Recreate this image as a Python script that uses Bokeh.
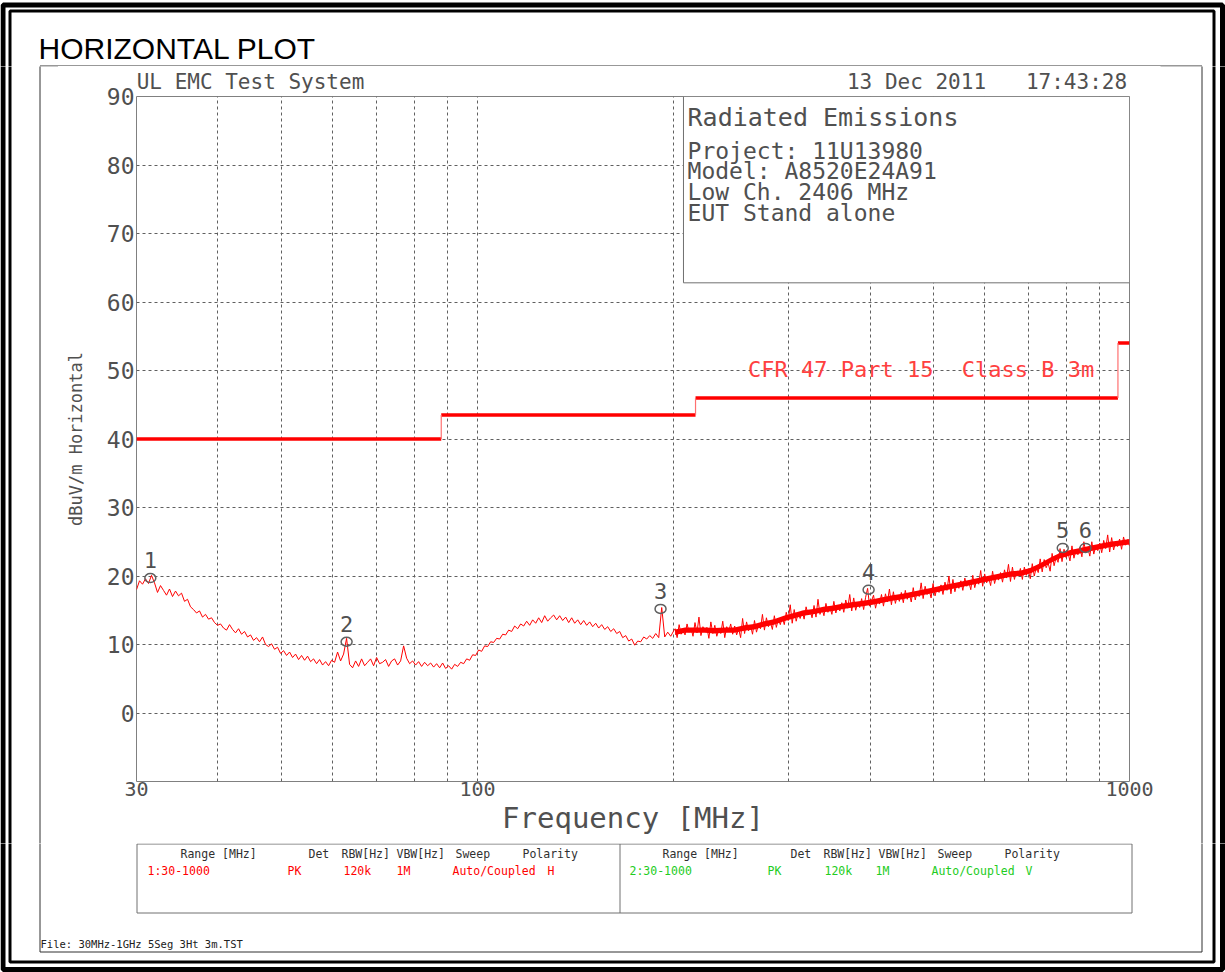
import numpy as np
from bokeh.plotting import figure
from bokeh.layouts import column, row
from bokeh.models import FixedTicker, Label, BoxAnnotation, Range1d, LinearAxis, LinearScale
from bokeh.core.properties import value
from bokeh.embed import file_html
from bokeh.resources import INLINE

# ---------------- data ----------------
low_start, low_stop = 30.0, 200.0
low_values = [
    18.0, 19.3, 18.8, 19.6, 18.9, 20.1, 19.0, 17.6, 18.6, 17.9,
    17.2, 18.1, 17.0, 17.8, 17.1, 17.5, 16.3, 16.6, 15.5, 15.1,
    14.6, 14.9, 14.0, 14.4, 13.7, 13.9, 13.2, 12.8, 13.0, 12.4,
    12.1, 12.9, 12.2, 11.7, 12.3, 11.5, 11.9, 11.1, 11.4, 10.6,
    11.0, 10.4, 11.1, 10.0, 9.7, 10.1, 9.3, 9.6, 8.7, 9.1,
    8.4, 8.9, 8.1, 8.6, 7.8, 8.4, 7.7, 8.3, 7.5, 7.9,
    7.2, 7.8, 7.0, 7.5, 6.9, 7.7, 7.4, 8.9, 7.6, 8.6,
    10.9, 7.1, 6.6, 7.6, 6.8, 7.9, 6.9, 7.4, 7.9, 6.9,
    8.1, 7.2, 7.4, 7.8, 6.8, 7.6, 7.9, 7.0, 7.6, 9.8,
    8.0, 7.2, 7.6, 7.0, 7.5, 6.8, 7.4, 6.9, 7.3, 6.7,
    7.2, 6.6, 7.3, 6.5, 6.9, 6.4, 7.1, 6.8, 7.4, 7.2,
    7.9, 7.7, 8.5, 8.4, 9.2, 9.0, 9.8, 9.7, 10.4, 10.3,
    10.9, 10.8, 11.5, 11.4, 12.1, 11.9, 12.7, 12.3, 13.0, 12.7,
    13.4, 12.8, 13.6, 13.1, 13.9, 13.2, 14.2, 13.4, 13.9, 14.3,
    13.6, 14.2, 13.5, 14.0, 13.2, 13.9, 13.1, 13.6, 12.9, 13.5,
    12.8, 13.3, 12.6, 13.1, 12.4, 12.9, 12.2, 12.6, 11.9, 12.3,
    11.6, 11.9, 11.0, 11.3, 10.5, 10.8, 9.9, 10.5, 10.4, 11.1,
    10.8, 11.3, 10.9, 11.6, 11.0, 15.4, 11.1, 11.8, 11.2, 12.0,
]
high_start, high_stop = 201.0, 1000.0
high_values = [
    12.3, 11.0, 12.9, 11.5, 12.0,
    11.4, 13.0, 11.8, 12.4, 11.2,
    13.2, 11.7, 14.0, 11.3, 12.6,
    11.9, 12.5, 10.9, 13.3, 11.6,
    12.8, 11.2, 12.2, 11.6, 13.4,
    11.0, 12.6, 11.9, 13.0, 11.5,
    12.7, 11.4, 12.3, 11.0, 13.8,
    11.6, 13.3, 12.0, 12.8, 11.5,
    13.5, 11.8, 12.9, 12.3, 14.4,
    12.1, 13.9, 12.6, 13.3, 12.2,
    14.2, 12.5, 13.7, 12.9, 14.0,
    12.9, 14.7, 13.5, 15.8, 13.1,
    15.1, 13.4, 14.6, 13.8, 14.9,
    13.7, 15.5, 14.3, 15.0, 13.9,
    15.7, 14.0, 16.6, 14.4, 15.3,
    14.2, 16.0, 14.7, 15.5, 14.4,
    16.3, 14.6, 15.7, 14.9, 16.1,
    14.7, 16.5, 15.3, 17.3, 14.9,
    16.8, 15.0, 16.1, 15.4, 16.7,
    15.1, 16.9, 18.2, 15.6, 16.4,
    17.2, 15.3, 16.6, 15.9, 17.3,
    15.6, 17.4, 16.2, 18.1, 15.8,
    17.7, 16.0, 17.2, 16.3, 17.6,
    16.1, 17.9, 16.6, 17.4, 16.2,
    18.3, 16.5, 17.7, 17.0, 19.0,
    16.7, 18.5, 17.3, 18.0, 16.8,
    18.9, 17.1, 18.3, 17.6, 18.7,
    17.3, 19.1, 17.9, 20.0, 17.4,
    19.5, 17.7, 18.9, 18.2, 19.3,
    17.9, 19.7, 18.5, 19.2, 18.0,
    20.1, 18.3, 19.5, 18.8, 20.8,
    18.5, 20.3, 19.0, 19.8, 18.6,
    20.7, 18.9, 20.1, 19.4, 20.5,
    19.1, 20.9, 19.7, 21.7, 19.2,
    21.3, 19.5, 20.7, 20.0, 21.1,
    19.5, 21.3, 20.1, 20.8, 19.6,
    21.8, 20.0, 21.2, 20.5, 22.5,
    20.6, 22.4, 21.2, 21.9, 20.7,
    23.3, 21.5, 22.7, 22.0, 24.0,
    22.1, 23.9, 22.7, 23.4, 22.2,
    24.4, 22.6, 23.8, 23.1, 24.2,
    22.8, 25.0, 23.4, 24.1, 22.9,
    25.0, 23.2, 24.4, 23.7, 24.8,
    23.4, 25.2, 24.0, 26.0, 23.5,
    25.6, 23.8, 25.0, 24.3, 25.4,
    23.9, 25.7, 24.5, 25.3, 24.4,
]
# core of the dense noise band (200 MHz - 1 GHz)
band_start, band_stop = 201.0, 1000.0
band_upper = [12.2, 12.5, 12.5, 12.5, 12.4, 12.5, 12.5, 12.8, 13.0, 13.4, 13.7, 14.2,
              14.6, 15.0, 15.2, 15.5, 15.7, 16.0, 16.2, 16.4, 16.6, 16.9, 17.2, 17.4,
              17.7, 18.0, 18.3, 18.6, 18.9, 19.2, 19.5, 19.8, 20.1, 20.4, 20.7, 20.8,
              21.2, 21.9, 22.7, 23.4, 23.8, 24.1, 24.4, 24.7, 25.0, 25.2, 25.4]
band_lower = [11.4, 11.7, 11.7, 11.7, 11.6, 11.7, 11.7, 12.0, 12.2, 12.6, 12.9, 13.4,
              13.8, 14.2, 14.4, 14.7, 14.9, 15.2, 15.4, 15.6, 15.8, 16.1, 16.4, 16.6,
              16.9, 17.2, 17.5, 17.8, 18.1, 18.4, 18.7, 19.0, 19.3, 19.6, 19.9, 20.0,
              20.4, 21.1, 21.9, 22.6, 23.0, 23.3, 23.6, 23.9, 24.2, 24.4, 24.6]
limit_edges = [30.0, 88.0, 216.0, 960.0, 1000.0]
limit_levels = [40.0, 43.5, 46.0, 54.0]
marker_freqs = [31.5, 63.0, 190.9, 398.0, 790.0, 856.0]
marker_levels = [19.7, 10.4, 15.2, 18.0, 24.1, 24.1]
marker_ids = ["1", "2", "3", "4", "5", "6"]
x_tick_values = [30, 100, 1000]
x_grid_values = [40, 50, 60, 70, 80, 90, 100, 200, 300, 400, 500, 600, 700, 800, 900]
y_tick_values = [0, 10, 20, 30, 40, 50, 60, 70, 80, 90]

# ---------------- page geometry (pixels) ----------------
PW, PH = 1225, 972
TOP_H = 66          # top strip height
BOT_Y = 843         # bottom strip start
LEFT_W = 58         # left strip width
RIGHT_X = 1160      # right strip start
MONO = "DejaVu Sans Mono"
TXT = "#505050"


def decorations(f):
    # double page border
    f.quad(left=2.5, right=1222, top=4.5, bottom=969, fill_color=None,
           line_color="black", line_width=5)
    f.quad(left=9.5, right=1213.5, top=10.5, bottom=961.5, fill_color=None,
           line_color="black", line_width=3)
    # inner frame
    f.quad(left=39.5, right=1201.5, top=65.5, bottom=951.5, fill_color=None,
           line_color="#303030", line_width=1)


def strip(x0, x1, y0, y1):
    f = figure(width=x1 - x0, height=y1 - y0,
               x_range=Range1d(x0, x1), y_range=Range1d(y1, y0),
               output_backend="svg", toolbar_location=None,
               x_axis_location=None, y_axis_location=None, min_border=0,
               frame_align=False)
    f.title.visible = False
    f.grid.visible = False
    f.outline_line_color = None
    f.background_fill_color = "white"
    f.border_fill_color = "white"
    decorations(f)
    return f


def txt(f, x, y, s, size, color=TXT, font=MONO, align="left", baseline="middle"):
    f.text(x=[x], y=[y], text=[s], text_font=value(font), text_font_size=size,
           text_color=color, text_align=align, text_baseline=baseline)


# ---------------- top strip ----------------
top = strip(0, PW, 0, TOP_H)
txt(top, 38, 48, "HORIZONTAL PLOT", "30px", color="black", font="Liberation Sans")

# ---------------- side strips ----------------
left = strip(0, LEFT_W, TOP_H, BOT_Y)
right = strip(RIGHT_X, PW, TOP_H, BOT_Y)

# ---------------- bottom strip ----------------
bottom = strip(0, PW, BOT_Y, PH)
bottom.quad(left=136.5, right=1131.5, top=843.5, bottom=912.5, fill_color=None,
            line_color="#707070", line_width=1)
bottom.segment(x0=[619.5], y0=[843.5], x1=[619.5], y1=[912.5],
               line_color="#707070", line_width=1)
hdr = [(180, "Range [MHz]"), (308, "Det"), (341, "RBW[Hz]"),
       (396, "VBW[Hz]"), (455, "Sweep"), (522, "Polarity")]
for off in (0, 482):
    for x, t in hdr:
        txt(bottom, x + off, 853, t, "11.5px", color="#303030")
for x, t in [(147, "1:30-1000"), (287, "PK"), (343, "120k"), (396, "1M"),
             (452, "Auto/Coupled"), (547, "H")]:
    txt(bottom, x, 870, t, "11.5px", color="#ff0000")
for x, t in [(629, "2:30-1000"), (767, "PK"), (824, "120k"), (875, "1M"),
             (931, "Auto/Coupled"), (1025, "V")]:
    txt(bottom, x, 870, t, "11.5px", color="#22cc22")
txt(bottom, 40, 943, "File: 30MHz-1GHz 5Seg 3Ht 3m.TST", "10.5px", color="#202020")

# ---------------- main chart ----------------
p = figure(width=RIGHT_X - LEFT_W, height=BOT_Y - TOP_H, x_axis_type="log",
           x_range=Range1d(30, 1000), y_range=Range1d(-10, 90),
           output_backend="svg", toolbar_location=None,
           min_border_left=136 - LEFT_W, min_border_right=RIGHT_X - 1129,
           min_border_top=96 - TOP_H, min_border_bottom=BOT_Y - 781,
           frame_align=False)
p.title.visible = False
p.background_fill_color = "white"
p.border_fill_color = "white"
p.outline_line_color = "#808080"
p.outline_line_width = 1

p.xaxis.ticker = FixedTicker(ticks=x_tick_values)
p.xaxis.major_label_overrides = {v: str(v) for v in x_tick_values}
p.yaxis.ticker = FixedTicker(ticks=y_tick_values)
for ax in (p.xaxis[0], p.yaxis[0]):
    ax.axis_line_color = None
    ax.major_tick_line_color = None
    ax.minor_tick_line_color = None
    ax.major_tick_out = 0
    ax.major_label_text_font = MONO
    ax.major_label_text_color = TXT
    ax.axis_label_text_font = MONO
    ax.axis_label_text_color = TXT
    ax.axis_label_text_font_style = "normal"
p.xaxis.major_label_text_font_size = "20px"
p.xaxis.major_label_standoff = 0
p.xaxis.axis_label = "Frequency [MHz]"
p.xaxis.axis_label_text_font_size = "29px"
p.xaxis.axis_label_standoff = 2
p.yaxis.major_label_text_font_size = "23px"
p.yaxis.major_label_standoff = 2
p.yaxis.axis_label = "dBuV/m Horizontal"
p.yaxis.axis_label_text_font_size = "17px"
p.yaxis.axis_label_standoff = 18

# header line above the plot: system name and date/time, set on a pixel axis
header_centers = [250, 916, 1076]
header_texts = ["UL EMC Test System", "13 Dec 2011", "17:43:28"]
p.extra_x_ranges = {"px": Range1d(136, 1129)}
p.extra_x_scales = {"px": LinearScale()}
hdr_axis = LinearAxis(x_range_name="px", ticker=FixedTicker(ticks=header_centers),
                      major_label_overrides=dict(zip(header_centers, header_texts)),
                      axis_line_color=None, major_tick_line_color=None,
                      minor_tick_line_color=None, major_tick_out=0, major_tick_in=0,
                      major_label_standoff=3, major_label_text_font=MONO,
                      major_label_text_font_size="21px", major_label_text_color=TXT)
p.add_layout(hdr_axis, "above")

p.xgrid.ticker = FixedTicker(ticks=x_grid_values)
p.ygrid.ticker = FixedTicker(ticks=y_tick_values)
for g in (p.xgrid[0], p.ygrid[0]):
    g.grid_line_color = "#606060"
    g.grid_line_dash = "3 3"
    g.grid_line_width = 1

# info box
p.add_layout(BoxAnnotation(left=207, right=1000, bottom=62.8, top=90,
                           fill_color="white", fill_alpha=1,
                           line_color="#707070", line_width=1, line_alpha=1))
info = [("Radiated Emissions", 87.0, "25px"), ("Project: 11U13980", 82.0, "23px"),
        ("Model: A8520E24A91", 79.1, "23px"), ("Low Ch. 2406 MHz", 76.05, "23px"),
        ("EUT Stand alone", 73.0, "23px")]
for s, yv, fs in info:
    p.add_layout(Label(x=210, y=yv, text=s, text_font=MONO, text_font_size=fs,
                       text_color=TXT, text_baseline="middle", text_align="left"))

# trace
freq_low = np.geomspace(low_start, low_stop, len(low_values))
freq_high = np.geomspace(high_start, high_stop, len(high_values))
freq_band = np.geomspace(band_start, band_stop, len(band_upper))
p.varea(x=freq_band, y1=band_lower, y2=band_upper, fill_color="#ff0000", fill_alpha=1)
p.line(np.concatenate([freq_low, freq_high]), np.array(low_values + high_values),
       line_color="#ff0000", line_width=1)

# limit line
p.segment(x0=limit_edges[:-1], y0=limit_levels, x1=limit_edges[1:], y1=limit_levels,
          line_color="#ff0000", line_width=3.5)
p.segment(x0=limit_edges[1:-1], y0=limit_levels[:-1], x1=limit_edges[1:-1],
          y1=limit_levels[1:], line_color="#ff7070", line_width=1.2)
p.add_layout(Label(x=260, y=50.1, text="CFR 47 Part 15", text_font=MONO,
                   text_font_size="22px", text_color="#ff4040",
                   text_baseline="middle", text_align="left"))
p.add_layout(Label(x=553, y=50.1, text="Class B 3m", text_font=MONO,
                   text_font_size="22px", text_color="#ff4040",
                   text_baseline="middle", text_align="left"))

# markers
p.ellipse(x=marker_freqs, y=marker_levels, width=11, height=9,
          width_units="screen", height_units="screen",
          fill_color=None, line_color="#606060", line_width=1.5)
p.text(x=marker_freqs, y=marker_levels, text=marker_ids, y_offset=-18,
       text_align="center", text_baseline="middle",
       text_font=value(MONO), text_font_size="22px", text_color=TXT)

layout = column(top, row(left, p, right, spacing=0), bottom, spacing=0)
open("out.html", "w").write(file_html(layout, INLINE))
